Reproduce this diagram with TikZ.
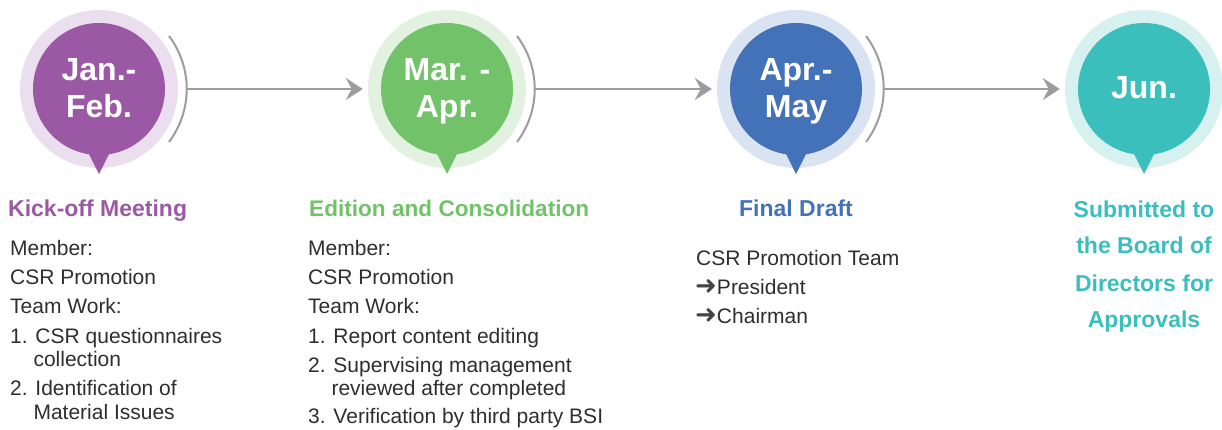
\documentclass[tikz,border=0pt]{standalone}
\usepackage{fontspec}
\setmainfont{Liberation Sans}
\newfontfamily\symfont{DejaVu Sans}
\usetikzlibrary{arrows.meta}
\definecolor{cpurple}{HTML}{9B59A5}
\definecolor{lpurple}{HTML}{EBDEEE}
\definecolor{cgreen}{HTML}{72C26A}
\definecolor{lgreen}{HTML}{E3F2E0}
\definecolor{cblue}{HTML}{4472B9}
\definecolor{lblue}{HTML}{DAE3F2}
\definecolor{cteal}{HTML}{3ABFBD}
\definecolor{lteal}{HTML}{D6F1F0}
\definecolor{linegray}{HTML}{9D9DA1}
\definecolor{bodytext}{HTML}{2E2E2E}
\definecolor{arrowtext}{HTML}{444444}
\begin{document}
\begin{tikzpicture}[x=1pt,y=-1pt,
  outer/.style={circle, inner sep=0pt, minimum size=158pt, fill=#1},
  inner/.style={circle, inner sep=0pt, minimum size=132pt, fill=#1},
  month/.style={anchor=base, inner sep=0pt, text=white, font=\fontsize{32}{37}\selectfont\bfseries},
  body/.style={anchor=base west, inner sep=0pt, text=bodytext, font=\fontsize{21}{25}\selectfont},
  ttl/.style={anchor=base west, inner sep=0pt, font=\fontsize{23}{27}\selectfont\bfseries},
  conn/.style={draw=linegray, line width=2.5pt, shorten >=5pt, -{Stealth[length=17pt,width=22pt,inset=6pt]}},
  brk/.style={draw=linegray, line width=2pt},
]
\useasboundingbox (0,0) rectangle (1222,429);

% ---- stage circles
\foreach \n/\x/\lc/\dc in {1/99/lpurple/cpurple, 2/447/lgreen/cgreen, 3/796/lblue/cblue, 4/1144/lteal/cteal}{
  \node[outer=\lc] (o\n) at (\x,89) {};
  \fill[\dc] (\x-13,148) -- (\x+13,148) -- (\x,174) -- cycle;
  \node[inner=\dc] (m\n) at (\x,89) {};
}

% ---- brackets and connectors
\foreach \n/\x in {1/99, 2/447, 3/796}{
  \draw[brk] (\x+70,36) arc[start angle=-37, end angle=37, radius=88];
  \coordinate (b\n) at (\x+88,89);
}
\draw[conn] (b1) -- (o2);
\draw[conn] (b2) -- (o3);
\draw[conn] (b3) -- (o4);

% ---- month labels
\node[month] (t1a) at (99,80) {Jan.-};
\node[month] (t1b) at (99,117) {Feb.};
\node[month] (t2a) at (447,80) {Mar. -};
\node[month] (t2b) at (447,117) {Apr.};
\node[month] (t3a) at (796,80) {Apr.-};
\node[month] (t3b) at (796,117) {May};
\node[month] (t4a) at (1144,98) {Jun.};

% ---- column 1
\node[ttl, text=cpurple] (h1) at (8,216) {Kick-off Meeting};
\node[body] (c1a) at (10,255) {Member:};
\node[body] (c1b) at (10,284) {CSR Promotion};
\node[body] (c1c) at (10,313) {Team Work:};
\node[body] (c1d) at (10,343) {1. CSR questionnaires};
\node[body] (c1e) at (10,366) {\phantom{1.\ }collection};
\node[body] (c1f) at (10,395) {2. Identification of};
\node[body] (c1g) at (10,419) {\phantom{2.\ }Material Issues};

% ---- column 2
\node[ttl, text=cgreen, font=\fontsize{22.6}{27}\selectfont\bfseries] (h2) at (309,216) {Edition and Consolidation};
\node[body] (c2a) at (308,255) {Member:};
\node[body] (c2b) at (308,284) {CSR Promotion};
\node[body] (c2c) at (308,313) {Team Work:};
\node[body] (c2d) at (308,343) {1. Report content editing};
\node[body] (c2e) at (308,372) {2. Supervising management};
\node[body] (c2f) at (308,395) {\phantom{2.\ }reviewed after completed};
\node[body] (c2g) at (308,423) {3. Verification by third party BSI};

% ---- column 3
\node[ttl, anchor=base, text=cblue] (h3) at (796,216) {Final Draft};
\node[body] (c3a) at (696,265) {CSR Promotion Team};
\node[body] (c3b) at (695,294) {{\symfont\bfseries\fontsize{26}{26}\selectfont\color{arrowtext}➜}President};
\node[body] (c3c) at (695,323) {{\symfont\bfseries\fontsize{26}{26}\selectfont\color{arrowtext}➜}Chairman};

% ---- column 4
\node[ttl, anchor=base, text=cteal] (h4a) at (1144,217) {Submitted to};
\node[ttl, anchor=base, text=cteal] (h4b) at (1144,253) {the Board of};
\node[ttl, anchor=base, text=cteal] (h4c) at (1144,291) {Directors for};
\node[ttl, anchor=base, text=cteal] (h4d) at (1144,327) {Approvals};
\end{tikzpicture}
\end{document}
